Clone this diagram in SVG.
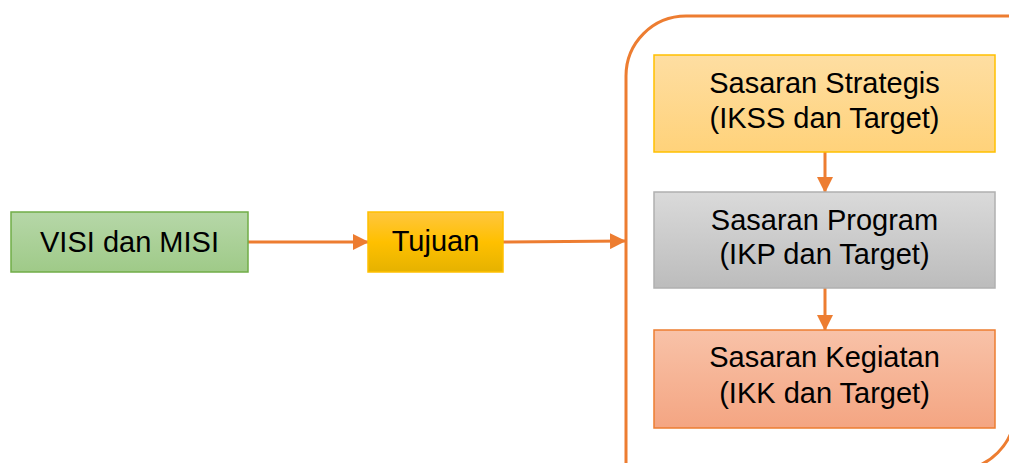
<svg xmlns="http://www.w3.org/2000/svg" width="1009" height="463" viewBox="0 0 1009 463">
<style>
  text{font-family:"Liberation Sans",Arial,sans-serif;font-size:29px;fill:#000;text-anchor:middle}
  .conn{stroke:#ed7d31;stroke-width:3;fill:none}
</style>
<defs>
  <linearGradient id="gGreen" x1="0" y1="0" x2="0" y2="1"><stop offset="0" stop-color="#b6d7a8"/><stop offset="1" stop-color="#9fca88"/></linearGradient>
  <linearGradient id="gGold" x1="0" y1="0" x2="0" y2="1"><stop offset="0" stop-color="#ffc63f"/><stop offset="0.5" stop-color="#ffc000"/><stop offset="1" stop-color="#e5b200"/></linearGradient>
  <linearGradient id="gYellow" x1="0" y1="0" x2="0" y2="1"><stop offset="0" stop-color="#fedea2"/><stop offset="1" stop-color="#ffd27a"/></linearGradient>
  <linearGradient id="gGray" x1="0" y1="0" x2="0" y2="1"><stop offset="0" stop-color="#dadada"/><stop offset="1" stop-color="#bcbcbc"/></linearGradient>
  <linearGradient id="gSalmon" x1="0" y1="0" x2="0" y2="1"><stop offset="0" stop-color="#f8c2a8"/><stop offset="1" stop-color="#f4a582"/></linearGradient>
  <marker id="ah" markerUnits="userSpaceOnUse" markerWidth="16" markerHeight="16" refX="15" refY="8" orient="auto">
    <path d="M0,0 L16,8 L0,16 Z" fill="#ed7d31"/>
  </marker>
</defs>
<g id="container">
  <path d="M626 475 V76 A60 60 0 0 1 686 16 H1015 V411 A59 59 0 0 1 956 470 Z" fill="none" stroke="#ed7d31" stroke-width="3"/>
</g>
<g id="connectors">
  <line class="conn" x1="248" y1="242" x2="368" y2="242" marker-end="url(#ah)"/>
  <line class="conn" x1="503" y1="242" x2="625" y2="241" marker-end="url(#ah)"/>
  <line class="conn" x1="825" y1="152" x2="825" y2="192" marker-end="url(#ah)"/>
  <line class="conn" x1="825" y1="288" x2="825" y2="330" marker-end="url(#ah)"/>
</g>
<g id="visi">
  <rect x="11" y="212" width="237" height="60" fill="url(#gGreen)" stroke="#70ad47" stroke-width="1.5"/>
  <text x="129.5" y="252">VISI dan MISI</text>
</g>
<g id="tujuan">
  <rect x="368" y="212" width="135" height="60" fill="url(#gGold)" stroke="#ffc000" stroke-width="1.5"/>
  <text x="435.5" y="251">Tujuan</text>
</g>
<g id="strategis">
  <rect x="654" y="55" width="341" height="97" fill="url(#gYellow)" stroke="#ffc000" stroke-width="1.5"/>
  <text x="824.5" y="93">Sasaran Strategis</text>
  <text x="824.5" y="128">(IKSS dan Target)</text>
</g>
<g id="program">
  <rect x="654" y="192" width="341" height="96" fill="url(#gGray)" stroke="#b0b0b0" stroke-width="1.5"/>
  <text x="824.5" y="230">Sasaran Program</text>
  <text x="824.5" y="264">(IKP dan Target)</text>
</g>
<g id="kegiatan">
  <rect x="654" y="330" width="341" height="98" fill="url(#gSalmon)" stroke="#ed7d31" stroke-width="1.5"/>
  <text x="824.5" y="367">Sasaran Kegiatan</text>
  <text x="824.5" y="403">(IKK dan Target)</text>
</g>
</svg>
